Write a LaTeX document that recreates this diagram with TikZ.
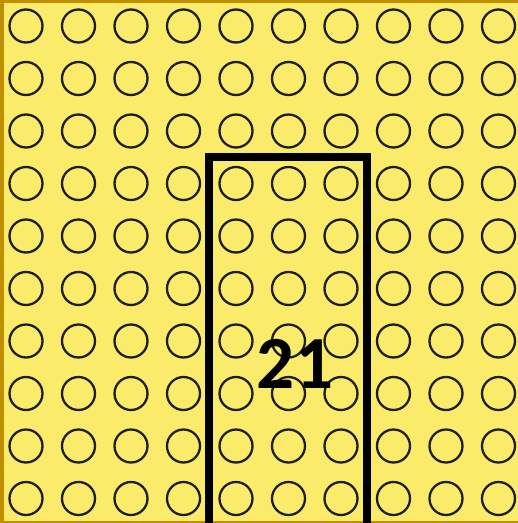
\documentclass[tikz,border=0pt]{standalone}
\usepackage{fontspec}
\setmainfont{Carlito}
\definecolor{padyellow}{RGB}{251,235,106}
\definecolor{padgold}{RGB}{191,144,0}
\definecolor{ring}{RGB}{30,30,30}

\begin{document}
\begin{tikzpicture}[x=1pt,y=-1pt,line width=2.3pt,
  dot/.style={circle,draw=ring,minimum size=33pt,inner sep=0pt}]
\useasboundingbox (0,0) rectangle (518,523);
\fill[padgold] (0,0) rectangle (518,523);
\fill[padyellow] (4,3) rectangle (518,521);
\foreach \i in {0,...,9}
  \foreach \j in {0,...,9}
    \node[dot] (d\i\j) at (26+52.5*\i,26+52.5*\j) {};
\coordinate (bl) at (209,523);\coordinate (tr) at (367,157);\coordinate (br) at (367,523);
\draw[line width=8pt] (bl) |- (tr) -- (br);
\node[font=\fontsize{75}{75}\selectfont\bfseries] (total) at (295,364) {21};
\end{tikzpicture}
\end{document}
